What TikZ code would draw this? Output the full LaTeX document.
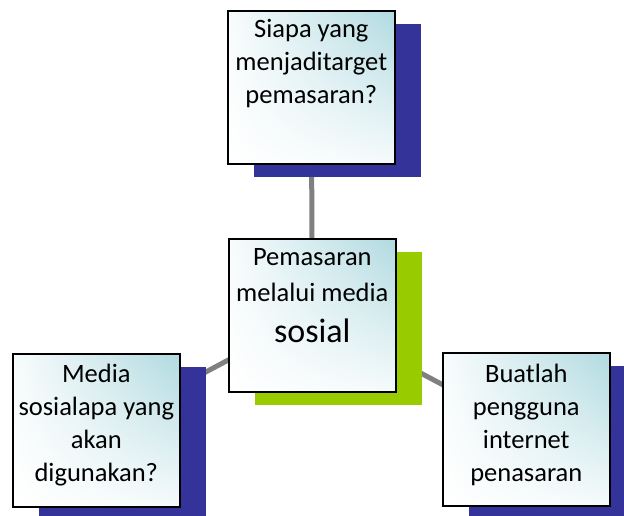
\documentclass[tikz,border=0pt]{standalone}
\usepackage{fontspec}
\setmainfont{Carlito}
\usetikzlibrary{shadows,shadings,backgrounds}
\definecolor{navyshadow}{RGB}{51,51,153}
\definecolor{greenshadow}{RGB}{153,204,0}
\definecolor{tealtop}{RGB}{176,218,224}
\definecolor{linkgray}{RGB}{128,128,128}
\tikzset{
  box/.style={draw=black, line width=1.6pt, minimum width=167pt, minimum height=153pt,
    inner sep=0pt, anchor=north west,
    upper right=tealtop, upper left=tealtop!8!white, lower left=white, lower right=tealtop!12!white},
  navyshade/.style={general shadow={fill=navyshadow, shadow xshift=26pt, shadow yshift=-13pt}},
  greenshade/.style={general shadow={fill=greenshadow, shadow xshift=26pt, shadow yshift=-13pt}},
  boxtext/.style={anchor=base, text width=165pt, align=flush center, inner sep=0pt,
    font=\fontsize{26.5}{33}\selectfont},
  link/.style={draw=linkgray, line width=5pt}
}
\begin{document}
\begin{tikzpicture}[x=1pt, y=-1pt]
\useasboundingbox (0,0) rectangle (624,516);
\node[box, navyshade] (top) at (227,10) {};
\node[box, greenshade] (mid) at (228,238) {};
\node[box, navyshade] (left) at (12,353) {};
\node[box, navyshade] (right) at (442,352) {};
\begin{scope}[on background layer]
  \draw[link] (mid.center) -- (top.center);
  \draw[link] (mid.center) -- (left.center);
  \draw[link] (mid.center) -- (right.center);
\end{scope}
\node[boxtext] (toptext) at ([yshift=-28pt]top.north) {Siapa yang\\menjaditarget\\pemasaran?};
\node[boxtext, font=\fontsize{26.5}{36}\selectfont] (midtext) at ([yshift=-27pt]mid.north)
  {Pemasaran\\melalui media\\[5pt]{\fontsize{34}{36}\selectfont sosial}};
\node[boxtext] (lefttext) at ([yshift=-29pt]left.north) {Media\\sosialapa yang\\akan\\digunakan?};
\node[boxtext] (righttext) at ([yshift=-30pt]right.north) {Buatlah\\pengguna\\internet\\penasaran};
\end{tikzpicture}
\end{document}
